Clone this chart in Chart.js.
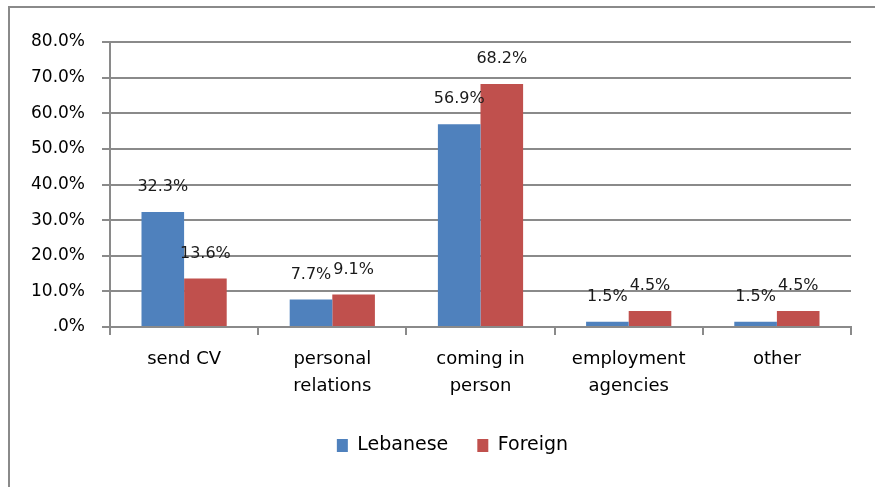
<!DOCTYPE html>
<html>
<head>
<meta charset="utf-8">
<script src="https://cdn.jsdelivr.net/npm/chart.js@4.4.1/dist/chart.umd.min.js"></script>
<style>
  html, body { margin: 0; padding: 0; background: #fff; }
  #wrap { width: 875px; height: 487px; position: relative; }
</style>
</head>
<body>
<div id="wrap"><canvas id="jobChart"></canvas></div>
<script>
// data
const categories = [['send CV'], ['personal', 'relations'], ['coming in', 'person'], ['employment', 'agencies'], ['other']];
const lebanese = [32.3, 7.7, 56.9, 1.5, 1.5];
const foreign = [13.6, 9.1, 68.2, 4.5, 4.5];
const seriesNames = ['Lebanese', 'Foreign'];
const yTicks = [0, 10, 20, 30, 40, 50, 60, 70, 80];

const FONT = 'DejaVu Sans';
const GRID = '#8a8a8a';

// frame around the chart (only top and left edges are in view)
const framePlugin = {
    id: 'frame',
    beforeDraw(chart) {
        const ctx = chart.ctx;
        ctx.save();
        ctx.strokeStyle = GRID;
        ctx.lineWidth = 2;
        ctx.beginPath();
        ctx.moveTo(9, 487);
        ctx.lineTo(9, 7);
        ctx.lineTo(875, 7);
        ctx.stroke();
        ctx.restore();
    }
};

// nudge the legend box so it is centred a bit right, like the original
const legendShift = {
    id: 'legendShift',
    afterLayout(chart) {
        if (chart.legend) chart.legend.left = 54;
    }
};

// value labels above each bar
const valueLabels = {
    id: 'valueLabels',
    afterDatasetsDraw(chart) {
        const ctx = chart.ctx;
        ctx.save();
        ctx.font = '16px ' + FONT;
        ctx.fillStyle = '#1a1a1a';
        ctx.textAlign = 'center';
        ctx.textBaseline = 'middle';
        chart.data.datasets.forEach((ds, i) => {
            chart.getDatasetMeta(i).data.forEach((bar, j) => {
                ctx.fillText(ds.data[j].toFixed(1) + '%', bar.x, bar.y - 25);
            });
        });
        ctx.restore();
    }
};

new Chart(document.getElementById('jobChart'), {
    type: 'bar',
    data: {
        labels: categories,
        datasets: [
            { label: seriesNames[0], data: lebanese, backgroundColor: '#4F81BD' },
            { label: seriesNames[1], data: foreign, backgroundColor: '#C0504D' }
        ]
    },
    options: {
        responsive: true,
        maintainAspectRatio: false,
        animation: false,
        categoryPercentage: 0.575,
        barPercentage: 1.0,
        layout: { padding: { left: 10, right: 24, top: 42, bottom: 22 } },
        plugins: {
            tooltip: { enabled: false },
            legend: {
                position: 'bottom',
                labels: {
                    color: '#000',
                    font: { family: FONT, size: 19 },
                    boxWidth: 11,
                    boxHeight: 13,
                    padding: 29
                }
            }
        },
        scales: {
            x: {
                grid: { drawOnChartArea: false, drawTicks: true, tickLength: 8, color: GRID, lineWidth: 2, offset: true },
                border: { display: true, color: GRID, width: 2 },
                ticks: { color: '#000', font: { family: FONT, size: 18, lineHeight: 1.5 }, padding: 11, maxRotation: 0 },
                afterFit(scale) { scale.height = 80; }
            },
            y: {
                min: 0,
                max: 80,
                afterBuildTicks(scale) { scale.ticks = yTicks.map(v => ({ value: v })); },
                grid: { color: GRID, lineWidth: 2, tickLength: 8 },
                border: { display: true, color: GRID, width: 2 },
                ticks: {
                    color: '#000',
                    font: { family: FONT, size: 17 },
                    padding: 17,
                    callback: v => v === 0 ? '.0%' : v.toFixed(1) + '%'
                },
                afterFit(scale) { scale.width = 100; }
            }
        }
    },
    plugins: [framePlugin, legendShift, valueLabels]
});
</script>
</body>
</html>
